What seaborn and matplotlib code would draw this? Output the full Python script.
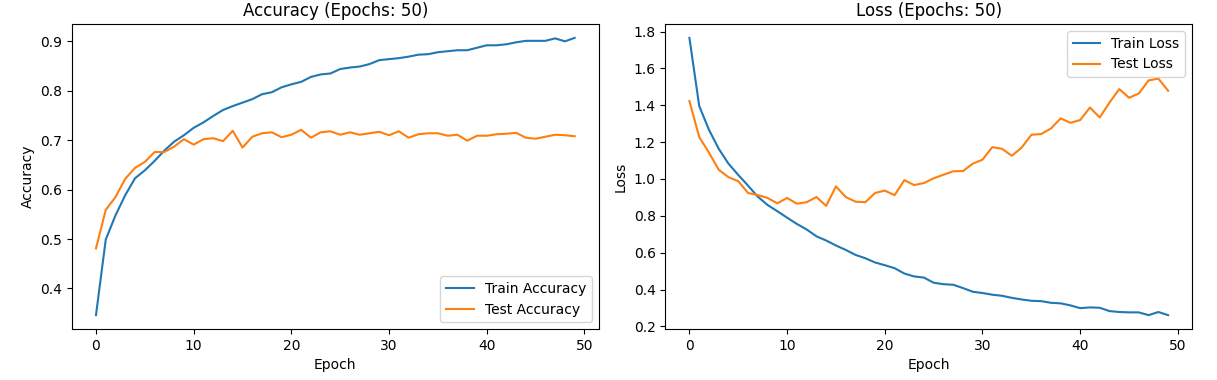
import matplotlib
matplotlib.use("Agg")
import matplotlib.pyplot as plt
import seaborn as sns
import numpy as np

epochs = list(range(50))

train_acc = [0.346, 0.499, 0.548, 0.589, 0.623, 0.639, 0.658, 0.679, 0.697, 0.710,
             0.725, 0.736, 0.749, 0.761, 0.769, 0.776, 0.783, 0.793, 0.797, 0.807,
             0.813, 0.818, 0.828, 0.833, 0.835, 0.844, 0.847, 0.849, 0.854, 0.862,
             0.864, 0.866, 0.869, 0.873, 0.874, 0.878, 0.880, 0.882, 0.882, 0.887,
             0.892, 0.892, 0.894, 0.898, 0.901, 0.901, 0.901, 0.906, 0.900, 0.907]

test_acc = [0.481, 0.559, 0.585, 0.622, 0.644, 0.656, 0.676, 0.676, 0.687, 0.702,
            0.691, 0.702, 0.704, 0.698, 0.719, 0.685, 0.707, 0.714, 0.716, 0.706,
            0.711, 0.721, 0.705, 0.716, 0.718, 0.711, 0.716, 0.711, 0.714, 0.717,
            0.710, 0.718, 0.705, 0.712, 0.714, 0.714, 0.709, 0.711, 0.699, 0.709,
            0.709, 0.712, 0.713, 0.715, 0.705, 0.703, 0.707, 0.711, 0.710, 0.708]

train_loss = [1.766, 1.397, 1.267, 1.164, 1.083, 1.022, 0.964, 0.904, 0.859, 0.825,
              0.790, 0.756, 0.726, 0.689, 0.666, 0.639, 0.615, 0.588, 0.570, 0.547,
              0.532, 0.516, 0.487, 0.471, 0.465, 0.437, 0.429, 0.426, 0.408, 0.388,
              0.381, 0.372, 0.366, 0.355, 0.346, 0.339, 0.337, 0.328, 0.325, 0.314,
              0.299, 0.303, 0.301, 0.283, 0.278, 0.276, 0.276, 0.261, 0.278, 0.261]

test_loss = [1.423, 1.228, 1.143, 1.050, 1.010, 0.988, 0.924, 0.913, 0.897, 0.868,
             0.897, 0.866, 0.874, 0.902, 0.854, 0.960, 0.902, 0.877, 0.874, 0.924,
             0.937, 0.912, 0.994, 0.967, 0.978, 1.004, 1.023, 1.042, 1.043, 1.083,
             1.105, 1.173, 1.164, 1.126, 1.170, 1.240, 1.244, 1.274, 1.329, 1.305,
             1.320, 1.388, 1.334, 1.415, 1.488, 1.441, 1.464, 1.535, 1.545, 1.479]

fig, axes = plt.subplots(1, 2, figsize=(12.17, 3.8), dpi=100)
fig.subplots_adjust(left=0.0592, right=0.9795, top=0.9368, bottom=0.1342, wspace=0.127)

ax = axes[0]
sns.lineplot(x=epochs, y=train_acc, ax=ax, label="Train Accuracy", color="#1f77b4")
sns.lineplot(x=epochs, y=test_acc, ax=ax, label="Test Accuracy", color="#ff7f0e")
ax.set_title("Accuracy (Epochs: 50)")
ax.set_xlabel("Epoch")
ax.set_ylabel("Accuracy")
ax.set_xticks([0, 10, 20, 30, 40, 50])
ax.legend(loc="lower right")

ax = axes[1]
sns.lineplot(x=epochs, y=train_loss, ax=ax, label="Train Loss", color="#1f77b4")
sns.lineplot(x=epochs, y=test_loss, ax=ax, label="Test Loss", color="#ff7f0e")
ax.set_title("Loss (Epochs: 50)")
ax.set_xlabel("Epoch")
ax.set_ylabel("Loss")
ax.set_xticks([0, 10, 20, 30, 40, 50])
ax.legend(loc="upper right")

fig.savefig("out.png", dpi=100)
